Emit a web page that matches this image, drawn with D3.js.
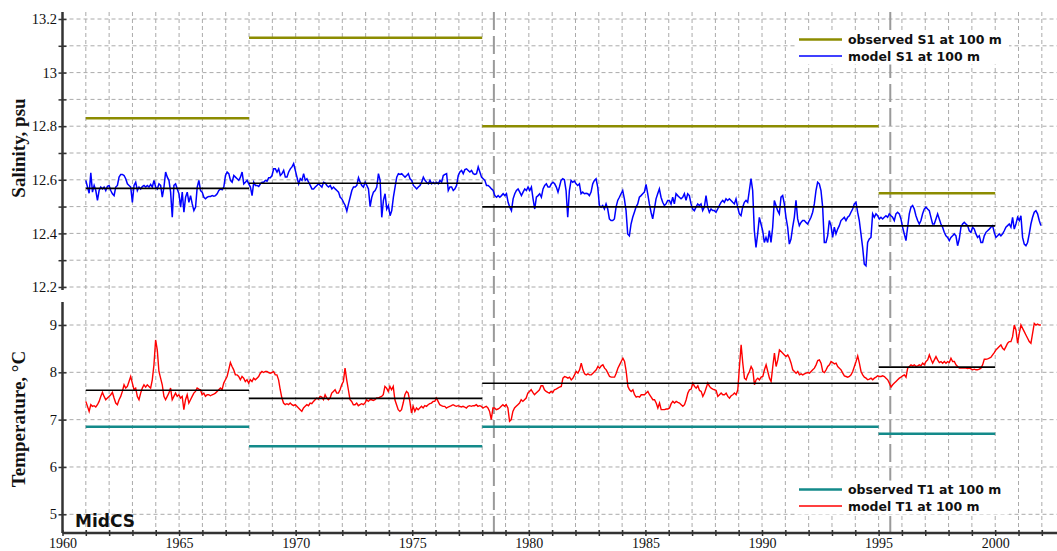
<!DOCTYPE html>
<html>
<head>
<meta charset="utf-8">
<script src="https://cdn.jsdelivr.net/npm/d3@7"></script>
<style>
  body { margin: 0; background: #fff; }
  text { fill: #111; }
</style>
</head>
<body>
<svg id="chart" width="1057" height="551"></svg>
<script>
// periods of the observation campaigns (years)
const periods = [[1961, 1968], [1968, 1978], [1978, 1995], [1995, 2000]];
const obsS = [12.83, 13.13, 12.80, 12.55];   // observed S1 at 100 m
const modS = [12.568, 12.587, 12.499, 12.428]; // model mean per period
const obsT = [6.85, 6.44, 6.85, 6.70];       // observed T1 at 100 m
const modT = [7.62, 7.45, 7.77, 8.11];       // model mean per period

const salTicks = [12.2, 12.3, 12.4, 12.5, 12.6, 12.7, 12.8, 12.9, 13.0, 13.1, 13.2];
const salLabels = [12.2, 12.4, 12.6, 12.8, 13.0, 13.2];
const tmpTicks = [5, 6, 7, 8, 9];
const yearLabels = [1960, 1965, 1970, 1975, 1980, 1985, 1990, 1995, 2000];

// model S1 at 100 m, 1961.0 - 1981.25
const salA = [12.598,12.573,12.550,12.626,12.554,12.579,12.560,12.523,12.560,12.573,12.566,12.573,12.560,12.576,12.579,12.560,12.548,12.541,12.573,12.579,12.610,12.620,12.620,12.616,12.604,12.585,12.579,12.573,
12.516,12.579,12.591,12.560,12.573,12.566,12.575,12.579,12.573,12.579,12.573,12.583,12.573,12.598,12.573,12.566,12.585,12.579,
12.535,12.573,12.629,12.610,12.598,12.554,12.460,12.579,12.585,12.566,12.548,12.498,12.554,12.479,12.535,12.554,12.516,12.541,12.510,12.485,12.498,12.573,12.598,12.560,12.554,12.535,12.529,12.535,12.538,12.538,12.541,12.539,12.541,12.548,12.560,12.566,12.563,12.573,12.616,12.629,12.623,12.598,12.591,12.616,12.610,12.604,12.598,12.610,12.629,12.585,12.591,12.598,12.585,12.573,12.541,12.591,12.579,12.579,12.575,12.585,12.591,12.591,12.598,12.595,12.608,12.608,12.616,12.641,12.641,12.629,12.641,12.616,12.623,12.635,12.610,12.610,12.629,12.641,12.648,12.660,12.635,12.610,12.585,12.604,12.598,12.623,12.598,12.604,12.591,12.579,12.566,12.566,12.573,12.579,12.585,12.579,12.573,12.591,12.588,12.579,12.573,12.579,12.566,12.573,12.566,12.560,12.554,12.535,12.529,12.516,12.504,12.483,12.510,12.535,12.560,12.573,12.573,12.579,12.608,12.591,12.579,12.573,12.591,12.579,12.566,12.500,12.535,12.554,12.560,12.573,12.623,12.598,12.460,12.523,12.548,12.491,12.504,12.466,12.485,12.535,12.573,12.610,12.623,12.620,12.623,12.616,12.610,12.616,12.623,12.604,12.598,12.579,12.573,12.566,12.573,12.579,12.591,12.610,12.598,12.591,12.585,12.598,12.585,12.591,12.585,12.591,12.585,12.598,12.591,12.616,12.620,12.623,12.560,12.573,12.573,12.560,12.566,12.579,12.616,12.629,12.635,12.623,12.638,12.641,12.635,12.629,12.635,12.623,12.620,12.623,12.648,12.629,12.610,12.604,12.598,12.579,12.579,12.573,12.566,12.560,12.541,12.535,12.541,12.535,12.541,12.548,12.541,12.548,12.516,12.498,12.485,12.529,12.548,12.560,12.566,12.554,12.541,12.554,12.566,12.560,12.573,12.560,12.573,12.529,12.491,12.535,12.541,12.548,12.535,12.566,12.579,12.585,12.573,12.573,12.585,12.591,12.585,12.573,12.554];

// model S1 at 100 m, 1981.3 - 2001.96
const salB = [12.573,12.598,12.604,12.600,12.560,12.460,12.560,12.598,12.591,12.595,12.585,12.579,12.585,12.548,12.554,12.548,12.550,12.548,12.541,12.554,12.585,12.598,12.604,12.573,12.504,12.498,12.504,12.491,12.510,12.491,12.454,12.448,12.448,12.454,12.498,12.523,12.535,12.548,12.560,12.529,12.485,12.398,12.391,12.435,12.460,12.479,12.498,12.510,12.535,12.541,12.548,12.554,12.583,12.548,12.510,12.479,12.454,12.491,12.529,12.548,12.566,12.535,12.516,12.504,12.510,12.523,12.523,12.510,12.535,12.510,12.548,12.541,12.535,12.529,12.535,12.548,12.523,12.548,12.541,12.510,12.491,12.485,12.498,12.510,12.504,12.510,12.485,12.498,12.541,12.498,12.479,12.491,12.485,12.485,12.479,12.491,12.504,12.516,12.523,12.516,12.529,12.523,12.529,12.523,12.516,12.510,12.529,12.498,12.473,12.466,12.498,12.516,12.523,12.516,12.560,12.604,12.560,12.410,12.348,12.398,12.460,12.435,12.410,12.366,12.385,12.366,12.410,12.366,12.423,12.523,12.504,12.485,12.473,12.535,12.541,12.510,12.460,12.423,12.360,12.379,12.423,12.460,12.523,12.454,12.429,12.441,12.448,12.448,12.441,12.435,12.448,12.460,12.479,12.510,12.560,12.591,12.585,12.560,12.498,12.366,12.366,12.391,12.448,12.429,12.385,12.423,12.398,12.416,12.429,12.448,12.454,12.460,12.448,12.460,12.466,12.479,12.491,12.510,12.516,12.479,12.448,12.398,12.348,12.285,12.279,12.366,12.379,12.385,12.473,12.460,12.473,12.466,12.454,12.460,12.454,12.460,12.466,12.460,12.473,12.466,12.460,12.448,12.473,12.479,12.473,12.454,12.423,12.398,12.373,12.423,12.473,12.498,12.504,12.491,12.466,12.448,12.435,12.448,12.473,12.491,12.498,12.491,12.485,12.460,12.435,12.435,12.454,12.473,12.454,12.435,12.423,12.404,12.391,12.385,12.373,12.385,12.391,12.398,12.391,12.354,12.379,12.423,12.435,12.441,12.435,12.429,12.410,12.404,12.423,12.416,12.398,12.385,12.391,12.366,12.366,12.391,12.404,12.410,12.416,12.423,12.429,12.404,12.385,12.391,12.398,12.391,12.398,12.410,12.423,12.429,12.435,12.423,12.460,12.416,12.435,12.460,12.448,12.466,12.385,12.360,12.354,12.366,12.398,12.435,12.460,12.479,12.485,12.473,12.448,12.429];

// model T1 at 100 m, 1961.0 - 1981.3
const tmpA = [7.386,7.281,7.175,7.316,7.281,7.295,7.267,7.316,7.386,7.491,7.575,7.491,7.421,7.456,7.491,7.526,7.575,7.456,7.351,7.316,7.421,7.491,7.597,7.737,7.667,7.702,7.807,7.912,7.772,7.632,7.667,7.491,7.421,7.561,7.667,7.737,7.688,7.737,7.702,7.667,7.842,8.158,8.684,8.474,8.018,7.877,7.737,7.491,7.421,7.491,7.561,7.667,7.421,7.491,7.561,7.491,7.526,7.456,7.491,7.211,7.421,7.526,7.351,7.421,7.491,7.561,7.597,7.667,7.646,7.632,7.526,7.561,7.491,7.526,7.526,7.505,7.526,7.540,7.561,7.597,7.632,7.667,7.632,7.772,7.842,7.912,8.053,8.207,8.123,8.053,7.947,7.947,7.912,7.842,7.912,7.877,7.807,7.842,7.772,7.842,7.807,7.877,7.842,7.877,7.912,7.982,8.018,7.996,8.018,8.018,7.996,7.982,7.996,8.018,7.947,7.947,7.842,7.632,7.456,7.351,7.316,7.337,7.316,7.351,7.316,7.295,7.316,7.281,7.246,7.211,7.175,7.246,7.281,7.316,7.295,7.351,7.337,7.386,7.421,7.456,7.435,7.491,7.477,7.421,7.526,7.456,7.421,7.456,7.561,7.597,7.632,7.561,7.561,7.632,7.737,7.807,8.088,7.842,7.632,7.421,7.386,7.316,7.316,7.351,7.295,7.316,7.337,7.316,7.351,7.421,7.386,7.421,7.421,7.407,7.421,7.456,7.456,7.477,7.491,7.526,7.702,7.667,7.597,7.702,7.632,7.702,7.421,7.316,7.211,7.175,7.211,7.351,7.526,7.597,7.561,7.386,7.140,7.281,7.175,7.246,7.211,7.246,7.281,7.246,7.295,7.281,7.316,7.337,7.351,7.386,7.386,7.456,7.386,7.316,7.295,7.281,7.281,7.246,7.267,7.281,7.295,7.316,7.295,7.281,7.295,7.281,7.267,7.281,7.267,7.246,7.281,7.295,7.281,7.295,7.295,7.316,7.281,7.295,7.281,7.246,7.267,7.281,7.246,7.175,7.000,7.246,7.246,7.211,7.225,7.246,7.281,7.316,7.281,7.316,7.246,6.965,7.000,7.175,7.246,7.281,7.316,7.351,7.421,7.386,7.421,7.456,7.561,7.597,7.632,7.575,7.526,7.561,7.597,7.632,7.716,7.716,7.632,7.597,7.575,7.561,7.597,7.575,7.632,7.646,7.667,7.688];

// model T1 at 100 m, 1981.4 - 2001.96
const tmpB = [7.702,7.877,7.912,7.898,7.877,7.898,7.842,7.877,7.947,8.018,7.982,8.053,8.193,8.053,7.968,7.947,7.968,7.947,7.947,7.982,8.018,8.053,8.123,8.088,8.137,8.158,8.088,8.053,7.982,7.912,7.898,7.898,7.898,7.982,8.088,8.158,8.228,8.298,8.228,8.018,7.702,7.632,7.597,7.632,7.526,7.477,7.491,7.477,7.526,7.526,7.526,7.561,7.597,7.526,7.477,7.421,7.421,7.351,7.246,7.351,7.211,7.211,7.211,7.225,7.225,7.246,7.337,7.386,7.351,7.386,7.365,7.351,7.316,7.281,7.316,7.421,7.561,7.632,7.646,7.772,7.702,7.667,7.716,7.618,7.597,7.491,7.561,7.667,7.772,7.702,7.667,7.646,7.632,7.618,7.491,7.526,7.561,7.526,7.526,7.561,7.491,7.456,7.505,7.526,7.561,7.526,7.632,8.123,8.579,8.193,7.877,7.842,7.947,8.018,8.123,8.053,7.737,7.842,7.877,7.842,7.898,7.912,8.053,8.158,8.018,7.877,7.807,8.123,8.404,8.123,8.263,8.474,8.439,8.404,8.368,8.333,8.368,8.298,8.193,8.053,8.018,7.982,8.018,7.947,7.968,7.947,7.968,7.982,7.996,7.982,8.018,8.053,8.088,8.158,8.249,8.263,8.193,8.018,7.996,8.053,8.123,8.158,8.228,8.207,8.179,8.193,8.123,8.088,8.053,7.982,7.926,7.912,7.898,7.912,7.947,8.018,8.123,8.228,8.347,8.193,8.018,7.947,7.898,7.877,7.842,7.856,7.877,7.842,7.877,7.898,7.926,7.912,7.912,7.926,7.912,7.877,7.842,7.772,7.688,7.737,7.772,7.807,7.842,7.877,7.898,7.926,7.947,7.898,8.088,8.123,8.158,8.137,8.158,8.123,8.137,8.158,8.137,8.193,8.158,8.228,8.263,8.368,8.277,8.193,8.263,8.333,8.263,8.207,8.228,8.193,8.228,8.193,8.228,8.207,8.298,8.228,8.228,8.158,8.123,8.088,8.088,8.088,8.088,8.088,8.081,8.088,8.074,8.053,8.067,8.053,8.053,8.067,8.088,8.158,8.277,8.277,8.284,8.298,8.319,8.368,8.418,8.474,8.509,8.544,8.579,8.509,8.474,8.544,8.614,8.649,8.649,8.754,9.000,8.895,8.614,8.825,9.000,8.930,8.860,8.789,8.719,8.649,8.614,8.825,9.035,9.000,9.021,9.000,9.000];

const salSegs = [{ from: 1961.0, to: 1981.25, values: salA }, { from: 1981.31, to: 2001.96, values: salB }];
const tmpSegs = [{ from: 1961.0, to: 1981.31, values: tmpA }, { from: 1981.39, to: 2001.96, values: tmpB }];

const separators = [1978.5, 1995.5];

const svg = d3.select("#chart");

const x = d3.scaleLinear().domain([1960, 2002.65]).range([62.5, 1057]);
const ySal = d3.scaleLinear().domain([12.2, 13.2]).range([287, 19]);
const yTmp = d3.scaleLinear().domain([5, 9]).range([514.3, 325]);

const top0 = 12, salBottom = 290, tmpTop = 302, xAxisY = 533;

function toPoints(segs) {
  return segs.flatMap(s => s.values.map((v, i) => [s.from + i * (s.to - s.from) / (s.values.length - 1), v]));
}

// grid
const grid = svg.append("g").attr("stroke", "#aaa").attr("stroke-dasharray", "4,3").attr("stroke-width", 1);
grid.selectAll(".gx").data(d3.range(1961, 2003)).enter().append("line")
  .attr("x1", d => x(d)).attr("x2", d => x(d)).attr("y1", top0).attr("y2", xAxisY);
grid.selectAll(".gs").data(salTicks).enter().append("line")
  .attr("x1", x(1960)).attr("x2", 1057).attr("y1", d => ySal(d)).attr("y2", d => ySal(d));
grid.selectAll(".gt").data(tmpTicks).enter().append("line")
  .attr("x1", x(1960)).attr("x2", 1057).attr("y1", d => yTmp(d)).attr("y2", d => yTmp(d));

// period separators
svg.selectAll(".sep").data(separators).enter().append("line")
  .attr("x1", d => x(d)).attr("x2", d => x(d)).attr("y1", top0).attr("y2", xAxisY)
  .attr("stroke", "#9a9a9a").attr("stroke-width", 2).attr("stroke-dasharray", "18,6");

const line = (yScale) => d3.line().x(d => x(d[0])).y(d => yScale(d[1]));

// period levels
function levels(values, yScale, color, width) {
  svg.append("g").selectAll("line").data(values).enter().append("line")
    .attr("x1", (d, i) => x(periods[i][0])).attr("x2", (d, i) => x(periods[i][1]))
    .attr("y1", d => yScale(d)).attr("y2", d => yScale(d))
    .attr("stroke", color).attr("stroke-width", width);
}

levels(obsS, ySal, "#8c8c00", 2.5);
levels(obsT, yTmp, "#138a8a", 2.5);

svg.append("path").datum(toPoints(salSegs)).attr("d", line(ySal))
  .attr("fill", "none").attr("stroke", "#0000ff").attr("stroke-width", 1.5);
svg.append("path").datum(toPoints(tmpSegs)).attr("d", line(yTmp))
  .attr("fill", "none").attr("stroke", "#ff0000").attr("stroke-width", 1.4);

levels(modS, ySal, "#000", 1.6);
levels(modT, yTmp, "#000", 1.6);

// axes
const axisFont = "'Liberation Serif', 'Times New Roman', serif";

function styleAxis(g, vertical) {
  g.select(".domain").remove();
  g.selectAll(".tick line").attr("stroke", "#333").attr("stroke-width", 1.5);
  if (vertical) g.selectAll(".tick line").attr("x1", -4).attr("x2", 4);
  else g.selectAll(".tick line").attr("y1", -3).attr("y2", 3);
  g.selectAll("text").style("font-family", axisFont).style("font-size", "14.5px").attr("fill", "#111");
}

const gSal = svg.append("g").attr("transform", `translate(${x(1960)},0)`)
  .call(d3.axisLeft(ySal).tickValues(salTicks).tickSize(4).tickPadding(1.5)
    .tickFormat(d => salLabels.some(v => Math.abs(v - d) < 1e-6) ? String(+d.toFixed(1)) : ""));
styleAxis(gSal, true);

const gTmp = svg.append("g").attr("transform", `translate(${x(1960)},0)`)
  .call(d3.axisLeft(yTmp).tickValues(tmpTicks).tickSize(4).tickPadding(1.5).tickFormat(d3.format("d")));
styleAxis(gTmp, true);

const gX = svg.append("g").attr("transform", `translate(0,${xAxisY})`)
  .call(d3.axisBottom(x).tickValues(d3.range(1960, 2003)).tickSize(3).tickPadding(2.5)
    .tickFormat(d => yearLabels.includes(d) ? String(d) : ""));
styleAxis(gX, false);
gX.selectAll("text").style("font-size", "14px");

const axisLines = svg.append("g").attr("stroke", "#333").attr("stroke-width", 2.5);
axisLines.append("line").attr("x1", x(1960)).attr("x2", x(1960)).attr("y1", top0).attr("y2", salBottom);
axisLines.append("line").attr("x1", x(1960)).attr("x2", x(1960)).attr("y1", tmpTop).attr("y2", xAxisY);
axisLines.append("line").attr("x1", x(1960)).attr("x2", 1057).attr("y1", xAxisY).attr("y2", xAxisY);

// axis titles
svg.append("text").attr("transform", "translate(25,148) rotate(-90)").attr("text-anchor", "middle")
  .style("font-family", axisFont).style("font-size", "19px").style("font-weight", "bold")
  .text("Salinity, psu");
svg.append("text").attr("transform", "translate(25,419) rotate(-90)").attr("text-anchor", "middle")
  .style("font-family", axisFont).style("font-size", "19px").style("font-weight", "bold")
  .text("Temperature, °C");

// legends
const legendFont = "'DejaVu Sans', Verdana, sans-serif";
function legend(y0, items) {
  const g = svg.append("g");
  g.append("rect").attr("x", 796).attr("y", y0 - 9).attr("width", 213).attr("height", 34).attr("fill", "#fff");
  items.forEach((it, i) => {
    const yy = y0 + i * 16.5;
    g.append("line").attr("x1", 799).attr("x2", 842).attr("y1", yy).attr("y2", yy)
      .attr("stroke", it.color).attr("stroke-width", it.width);
    g.append("text").attr("x", 848).attr("y", yy + 4.5)
      .style("font-family", legendFont).style("font-size", "12.5px").style("font-weight", "bold")
      .text(it.label);
  });
}
legend(39.5, [
  { label: "observed S1 at 100 m", color: "#8c8c00", width: 2.5 },
  { label: "model S1 at 100 m", color: "#0000ff", width: 1.5 }
]);
legend(489.5, [
  { label: "observed T1 at 100 m", color: "#138a8a", width: 2.5 },
  { label: "model T1 at 100 m", color: "#ff0000", width: 1.5 }
]);

svg.append("text").attr("x", 75).attr("y", 527)
  .style("font-family", legendFont).style("font-size", "17px").style("font-weight", "bold")
  .text("MidCS");
</script>
</body>
</html>
